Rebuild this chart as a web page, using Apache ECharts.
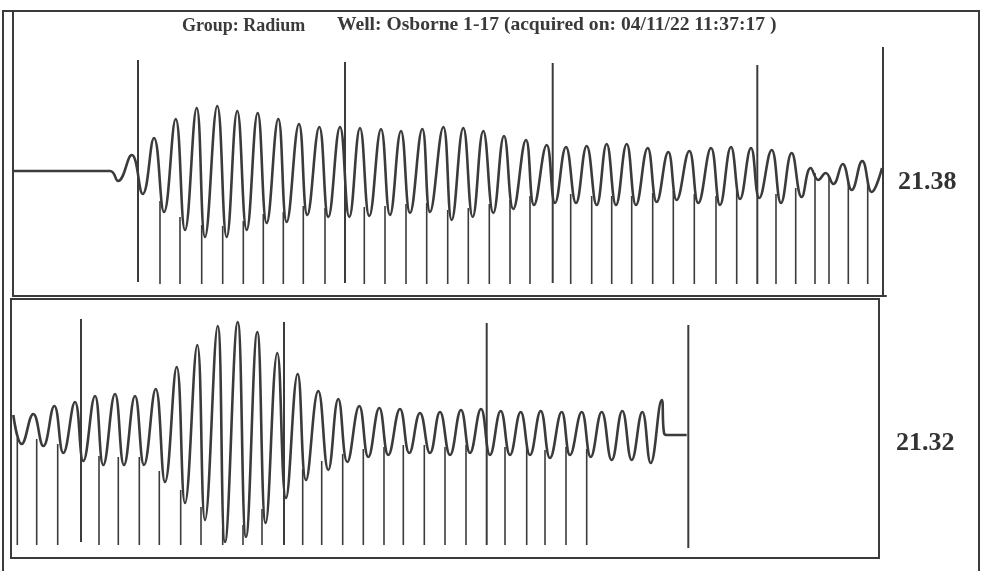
<!DOCTYPE html>
<html lang="en">
<head>
    <meta charset="UTF-8">
    <title>Osborne 1-17</title>
    <script src="https://cdn.jsdelivr.net/npm/echarts@6/dist/echarts.min.js"></script>
    <style>
        html, body { margin: 0; padding: 0; background: #fff; }
        #chartmain { width: 984px; height: 571px; }
    </style>
</head>
<body>
<div id="chartmain"></div>
<script type="text/javascript">
    // texts
    var groupText = 'Group: Radium';
    var wellText = 'Well: Osborne 1-17 (acquired on: 04/11/22 11:37:17 )';
    var topLabel = '21.38';
    var bottomLabel = '21.32';

    // upper trace: sample position and amplitude of each turning point
    var topWaveT = [13, 110, 118, 131.7, 142.7, 154, 164, 175.7, 185, 196.7, 205, 217.3, 226.7, 237.3, 246.7, 257.7,
        266.7, 278.3, 286.7, 299, 307.3, 319.3, 328.3, 340, 349.3, 360, 369.3, 381, 390, 401, 410, 422.3, 430,
        443.3, 451.7, 463.3, 472.7, 483.3, 493.3, 504, 513.3, 526, 534, 546.7, 555, 566, 576, 586.7, 596.7,
        606.7, 616, 626.7, 636, 647.7, 656.7, 668.3, 676.7, 689.3, 698.3, 711, 720, 731, 740, 751, 759.3,
        771.7, 781, 791.7, 801.7, 810.7, 818.3, 825.7, 833.3, 842.7, 851.7, 862.3, 871.7, 882];
    var topWaveA = [0, 0, -10, 16, -23, 33, -41, 52, -59, 63, -66, 65, -66, 60, -59, 58,
        -52, 52, -51, 47, -44, 44, -46, 44, -46, 43, -45, 42, -44, 40, -42, 42, -41,
        44, -49, 43, -46, 40, -42, 35, -38, 31, -34, 26, -32, 24, -32, 25, -34,
        27, -34, 27, -34, 23, -31, 19, -29, 20, -32, 23, -34, 24, -28, 23, -27,
        21, -32, 18, -26, 3, -9, -2, -13, 7, -19, 10, -21, 3];

    // upper trace: short spikes (top end, common base)
    var topSpikeT = [160, 180, 201.7, 222.7, 243.3, 263.3, 283.3, 303.3, 325, 364.3, 385, 406, 426.7, 447.7,
        468.3, 489.3, 510, 530, 570.7, 591.7, 611.7, 631.7, 652.7, 673.3, 694.3, 716, 736.7, 776, 795.7,
        815, 829, 848.3, 867.7];
    var topSpikeTop = [-30, -46, -54, -55, -50, -43, -41, -35, -37, -36, -35, -33, -32, -39,
        -37, -33, -29, -25, -23, -25, -25, -25, -22, -20, -23, -25, -19, -23, -17,
        -2, -6, -10, -12];
    var topSpikeBase = -113;

    // upper trace: long markers
    var topMarkT = [138, 345, 552.7, 757.3, 883];
    var topMarkTop = [111, 109, 108, 106, 124];
    var topMarkBottom = [-111, -112, -112, -113, -126];

    // lower trace
    var botWaveT = [13.3, 21.7, 33.3, 43.3, 54.3, 63.3, 75, 83.3, 95, 103.3, 115, 124, 135, 144, 155.7, 165,
        176.7, 185, 197.3, 205, 217.7, 225, 237.7, 246, 257.3, 265.7, 277.3, 286, 297.7, 306, 318.3, 328.3,
        338.3, 347.3, 359.3, 368.3, 379.3, 388.3, 400, 409.3, 420, 430, 440, 450, 461, 470, 481, 490,
        500.7, 510, 520.7, 530, 540.7, 550, 561.7, 570, 581.7, 590.7, 601.7, 611.7, 622.3, 631.7, 642.3,
        650.7, 661.7, 664, 667, 686.7];
    var botWaveA = [20, -9, 21, -11, 29, -18, 33, -26, 39, -30, 41, -30, 39, -30, 46, -47,
        68, -68, 90, -85, 109, -107, 113, -102, 103, -88, 82, -63, 61, -45, 44, -35,
        36, -27, 29, -22, 27, -20, 26, -18, 22, -18, 23, -20, 25, -18, 26, -20,
        24, -20, 23, -20, 24, -23, 23, -20, 23, -22, 23, -25, 24, -25, 23,
        -28, 35, 2, 0, 0];

    var botSpikeT = [17.3, 36.7, 57.7, 99, 118.3, 139.3, 159.3, 180.7, 201, 222.7, 243, 262, 302.7, 321.7,
        342.7, 363.3, 384, 403.3, 424.3, 445, 466, 505, 526.7, 545, 566, 586.7];
    var botSpikeTop = [-3, -4, -9, -21, -22, -22, -36, -55, -72, -92, -90, -74, -34, -26,
        -19, -14, -12, -10, -10, -12, -10, -12, -12, -15, -12, -14];
    var botSpikeBase = -110;

    var botMarkT = [81, 284, 486.7, 688.3];
    var botMarkTop = [116, 113, 112, 110];
    var botMarkBottom = [-107, -110, -110, -113];

    var ink = '#3b3b3b';

    function pairs(t, a) {
        var out = [];
        for (var i = 0; i < t.length; i++) out.push([t[i], a[i]]);
        return out;
    }
    function spikes(t, top, bottom) {
        var out = [];
        for (var i = 0; i < t.length; i++) {
            out.push([t[i], top[i], Array.isArray(bottom) ? bottom[i] : bottom]);
        }
        return out;
    }
    function spikeRenderer(width) {
        return function (params, api) {
            var p1 = api.coord([api.value(0), api.value(1)]);
            var p2 = api.coord([api.value(0), api.value(2)]);
            return {
                type: 'line',
                shape: { x1: p1[0], y1: p1[1], x2: p2[0], y2: p2[1] },
                style: { stroke: ink, lineWidth: width }
            };
        };
    }
    function spikeSeries(idx, data, width) {
        return {
            type: 'custom',
            xAxisIndex: idx,
            yAxisIndex: idx,
            renderItem: spikeRenderer(width),
            data: data,
            silent: true,
            z: 3
        };
    }
    function waveSeries(idx, data) {
        return {
            type: 'line',
            xAxisIndex: idx,
            yAxisIndex: idx,
            data: data,
            smooth: 0.45,
            symbol: 'none',
            lineStyle: { color: ink, width: 2.6 },
            silent: true,
            z: 4
        };
    }
    var edge = { show: true, onZero: false, lineStyle: { color: ink, width: 2 } };

    var myChart = echarts.init(document.getElementById('chartmain'));
    var option = {
        backgroundColor: '#fff',
        animation: false,
        grid: [
            { left: 13, top: 11, width: 873, height: 285 },
            { left: 11, top: 299, width: 868, height: 259, show: true, borderColor: ink, borderWidth: 2 }
        ],
        xAxis: [
            { gridIndex: 0, type: 'value', min: 13, max: 886, axisLine: edge,
              axisTick: { show: false }, axisLabel: { show: false }, splitLine: { show: false } },
            { gridIndex: 1, type: 'value', min: 11, max: 879, show: false }
        ],
        yAxis: [
            { gridIndex: 0, type: 'value', min: -125, max: 160, axisLine: edge,
              axisTick: { show: false }, axisLabel: { show: false }, splitLine: { show: false } },
            { gridIndex: 1, type: 'value', min: -123, max: 136, show: false }
        ],
        series: [
            waveSeries(0, pairs(topWaveT, topWaveA)),
            spikeSeries(0, spikes(topSpikeT, topSpikeTop, topSpikeBase), 1.6),
            spikeSeries(0, spikes(topMarkT, topMarkTop, topMarkBottom), 2),
            waveSeries(1, pairs(botWaveT, botWaveA)),
            spikeSeries(1, spikes(botSpikeT, botSpikeTop, botSpikeBase), 1.6),
            spikeSeries(1, spikes(botMarkT, botMarkTop, botMarkBottom), 2)
        ],
        graphic: [
            {
                type: 'polyline',
                shape: { points: [[3, 571], [3, 11], [979, 11], [979, 571]] },
                style: { stroke: ink, lineWidth: 2, fill: null },
                silent: true
            },
            {
                type: 'text', left: 182, top: 17,
                style: { text: groupText, font: 'bold 18px "Liberation Serif"', fill: '#3a3a3a' }
            },
            {
                type: 'text', left: 337, top: 16,
                style: { text: wellText, font: 'bold 19px "Liberation Serif"', fill: '#3a3a3a' },
                scaleX: 1.03
            },
            {
                type: 'text', left: 898, top: 169,
                style: { text: topLabel, font: 'bold 26px "Liberation Serif"', fill: '#333' }
            },
            {
                type: 'text', left: 896, top: 430,
                style: { text: bottomLabel, font: 'bold 26px "Liberation Serif"', fill: '#333' }
            }
        ]
    };
    myChart.setOption(option);
</script>
</body>
</html>
